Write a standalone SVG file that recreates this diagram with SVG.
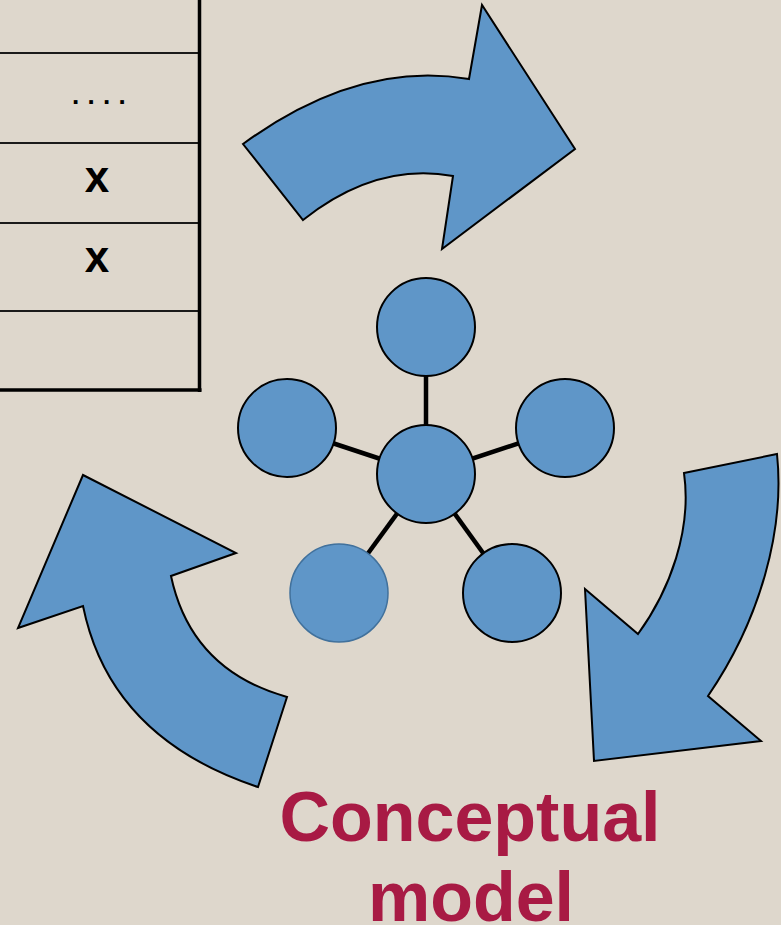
<svg xmlns="http://www.w3.org/2000/svg" width="781" height="925" viewBox="0 0 781 925">
<style>
.arrow{fill:#5F96C8;stroke:#000;stroke-width:2;stroke-linejoin:miter}
.node{fill:#5F96C8;stroke:#000;stroke-width:2}
.link{stroke:#000;stroke-width:4.5}
.tline{stroke:#1a1a1a;stroke-width:2}
.cell{font-family:"Liberation Sans",Arial,sans-serif;font-weight:bold;fill:#000}
.title{font-family:"Liberation Sans",Arial,sans-serif;font-weight:bold;fill:#A81A44;font-size:70px;text-anchor:middle}
</style>
<rect width="781" height="925" fill="#DED7CC"/>
<g id="table">
<line class="tline" x1="0" y1="53" x2="199" y2="53"/>
<line class="tline" x1="0" y1="143" x2="199" y2="143"/>
<line class="tline" x1="0" y1="223" x2="199" y2="223"/>
<line class="tline" x1="0" y1="311" x2="199" y2="311"/>
<line x1="0" y1="390" x2="201.5" y2="390" stroke="#000" stroke-width="3.5"/>
<line x1="199.5" y1="0" x2="199.5" y2="392" stroke="#000" stroke-width="3.5"/>
<text class="cell" x="72" y="104" font-size="26" letter-spacing="8.3">....</text>
<text class="cell" x="97" y="192" font-size="44" text-anchor="middle">x</text>
<text class="cell" x="97" y="272" font-size="44" text-anchor="middle">x</text>
</g>
<g id="arrow-top">
<path class="arrow" d="M243,144 Q358,60 469,79 L482,5 L575,149 L442,249 L453,176 Q376,162 303,220 Z"/>
</g>
<g id="arrow-right">
<path class="arrow" d="M684,473 L777,454 C785,530 760,620 708,696 L761,741 L594,761 L585,589 L638,634 C670,590 692,530 684,473 Z"/>
</g>
<g id="arrow-left">
<path class="arrow" d="M83,475 L236,553 L171,576 Q191,670 287,697 L258,787 Q110,738 83,606 L18,628 Z"/>
</g>
<g id="connectors">
<line class="link" x1="426" y1="474" x2="426" y2="327"/>
<line class="link" x1="426" y1="474" x2="287" y2="428"/>
<line class="link" x1="426" y1="474" x2="565" y2="428"/>
<line class="link" x1="426" y1="474" x2="339" y2="593"/>
<line class="link" x1="426" y1="474" x2="512" y2="593"/>
</g>
<g id="node-top"><circle class="node" cx="426" cy="327" r="49"/></g>
<g id="node-left"><circle class="node" cx="287" cy="428" r="49"/></g>
<g id="node-right"><circle class="node" cx="565" cy="428" r="49"/></g>
<g id="node-center"><circle class="node" cx="426" cy="474" r="49"/></g>
<g id="node-bottom-left"><circle cx="339" cy="593" r="49" fill="#5F96C8" stroke="#41719C" stroke-width="1.5"/></g>
<g id="node-bottom-right"><circle class="node" cx="512" cy="593" r="49"/></g>
<g id="label">
<text class="title" x="470" y="841">Conceptual</text>
<text class="title" x="471" y="921">model</text>
</g>
</svg>
